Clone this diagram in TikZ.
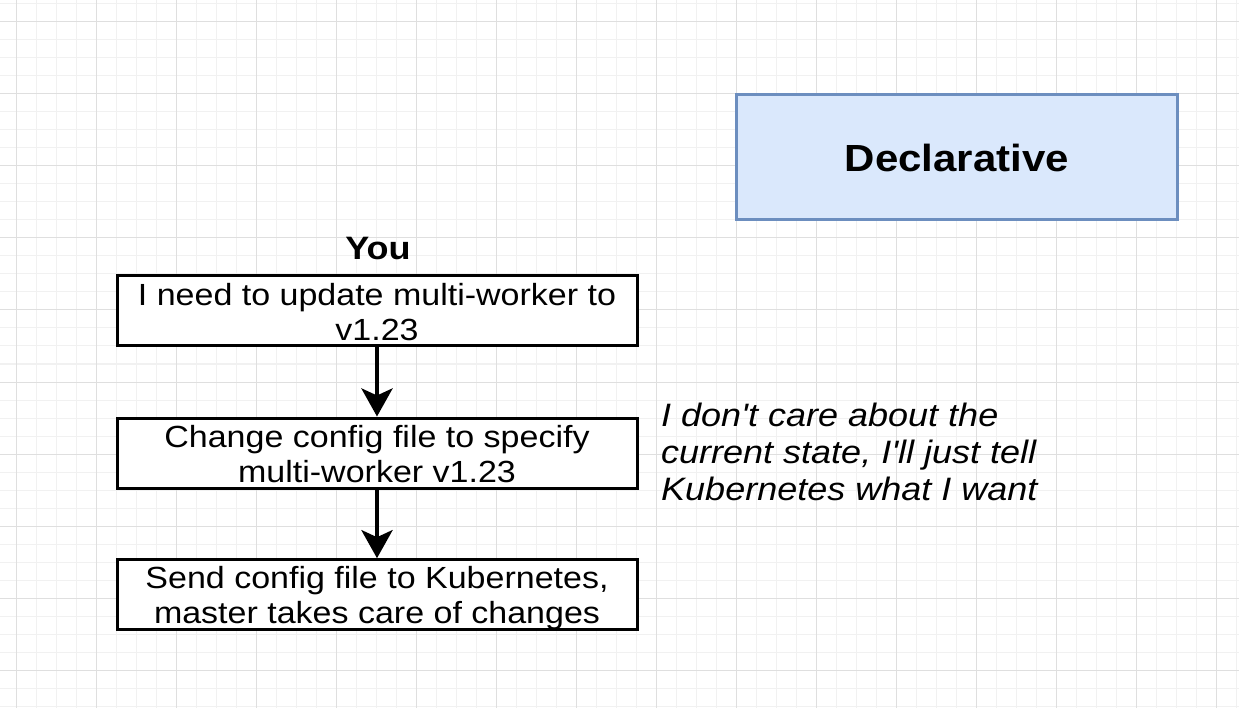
\documentclass[tikz,border=0pt]{standalone}
\usepackage{fontspec}
\setmainfont{Liberation Sans}
\usepackage{graphicx}
\usetikzlibrary{arrows.meta}
\newcommand\vsq[1]{\scalebox{1}[0.9]{#1}}
\definecolor{gridminor}{HTML}{F1F1F1}
\definecolor{gridmajor}{HTML}{DFDFDF}
\definecolor{declfill}{HTML}{DAE8FC}
\definecolor{decldraw}{HTML}{6C8EBF}
\begin{document}
\begin{tikzpicture}[x=1pt,y=-1pt,
  minorline/.style={draw=gridminor, line width=1pt},
  majorline/.style={draw=gridmajor, line width=1pt},
  stepbox/.style={draw=black, line width=3pt, fill=white, minimum width=520pt, minimum height=70pt, inner sep=0pt},
  boxtext/.style={anchor=base, inner sep=0pt, font=\fontsize{34}{39.2}\selectfont},
  declbox/.style={draw=decldraw, fill=declfill, line width=3pt, minimum width=441pt, minimum height=125pt, inner sep=0pt, font=\fontsize{42}{50}\selectfont\bfseries},
  titletext/.style={anchor=base, inner sep=0pt, font=\fontsize{36}{43}\selectfont\bfseries},
  notetext/.style={anchor=base west, inner sep=0pt, font=\fontsize{36}{40.8}\selectfont\itshape},
  flowarrow/.style={draw=black, line width=4.5pt, -{Stealth[length=28pt, width=31pt, inset=7pt]}}
]
\useasboundingbox (0,0) rectangle (1239,708);
\fill[white] (0,0) rectangle (1239,708);
% grid
\foreach \i in {0,...,61} \draw[minorline] ({16+20*\i},0) -- ({16+20*\i},708);
\foreach \j in {0,...,39} \draw[minorline] (0,{4+18*\j}) -- (1239,{4+18*\j});
\foreach \i in {0,...,15} \draw[majorline] ({16+80*\i},0) -- ({16+80*\i},708);
\foreach \j in {0,...,9} \draw[majorline] (0,{22+72*\j}) -- (1239,{22+72*\j});

% declarative box
\node[declbox] (decl) at (957,157.5) {\vsq{Declarative}};

% title
\node[titletext] (you) at (378,260) {\vsq{You}};

% flow boxes
\node[stepbox] (b1) at (377,311) {};
\node[stepbox] (b2) at (377,453) {};
\node[stepbox] (b3) at (377,594.7) {};

\node[boxtext] (t1) at ([yshift=5.5pt]b1.center) {\vsq{\begin{tabular}[t]{@{}c@{}}I need to update multi-worker to\\v1.23\end{tabular}}};
\node[boxtext] (t2) at ([yshift=6pt]b2.center) {\vsq{\begin{tabular}[t]{@{}c@{}}Change config file to specify\\multi-worker v1.23\end{tabular}}};
\node[boxtext] (t3) at ([yshift=6.2pt]b3.center) {\vsq{\begin{tabular}[t]{@{}c@{}}Send config file to Kubernetes,\\master takes care of changes\end{tabular}}};

% arrows
\draw[flowarrow] (b1) -- (b2);
\draw[flowarrow] (b2) -- (b3);

% note
\node[notetext] (note) at (661,426.7) {\vsq{\begin{tabular}[t]{@{}l@{}}I don\textquotesingle t care about the\\current state, I\textquotesingle ll just tell\\Kubernetes what I want\end{tabular}}};
\end{tikzpicture}
\end{document}
